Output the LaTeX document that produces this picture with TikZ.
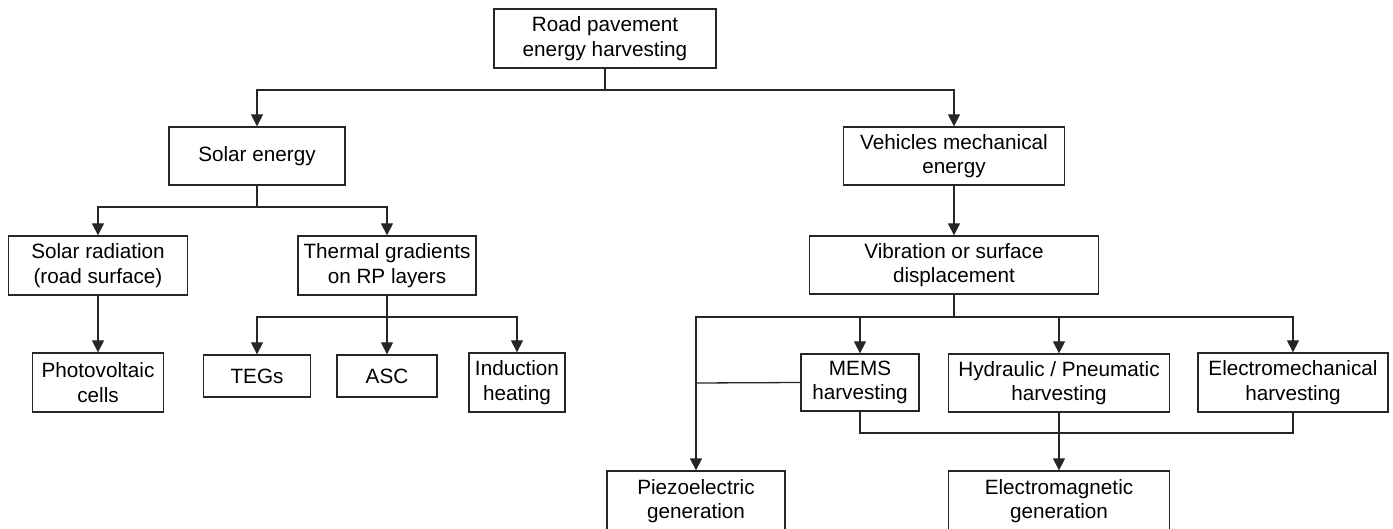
\documentclass[tikz,border=0pt]{standalone}
\usepackage{fontspec}
\setmainfont{Liberation Sans}
\usetikzlibrary{arrows.meta}
\begin{document}
\begin{tikzpicture}[x=1pt,y=-1pt,
  box/.style={draw=black!85, line width=1.3pt, inner sep=0pt, align=center,
    font=\fontsize{20.7}{24.5}\selectfont},
  link/.style={line width=1.3pt, draw=black!85},
  arr/.style={link, -{Triangle[length=12pt,width=12pt]}}]
\useasboundingbox (0,0) rectangle (1393,529);
\clip (0,0) rectangle (1393,529);
% nodes
\node[box, minimum width=222pt, minimum height=59pt] (root) at (605,38.5) {Road pavement\\energy harvesting};
\node[box, minimum width=176pt, minimum height=58pt] (solar) at (257,156) {Solar energy};
\node[box, minimum width=221pt, minimum height=58pt] (veh) at (954,156) {Vehicles mechanical\\energy};
\node[box, minimum width=179pt, minimum height=59pt] (srad) at (98,265.5) {Solar radiation\\(road surface)};
\node[box, minimum width=178pt, minimum height=59pt] (therm) at (387,265.5) {Thermal gradients\\on RP layers};
\node[box, minimum width=131pt, minimum height=59pt] (pv) at (98,382.5) {Photovoltaic\\cells};
\node[box, minimum width=107pt, minimum height=42pt] (tegs) at (257,376) {TEGs};
\node[box, minimum width=100pt, minimum height=42pt] (asc) at (387,376) {ASC};
\node[box, minimum width=96pt, minimum height=59pt] (ind) at (517,382.5) {Induction\\heating};
\node[box, minimum width=289pt, minimum height=58pt] (vib) at (954,265) {Vibration or surface\\displacement};
\node[box, minimum width=118pt, minimum height=57pt] (mems) at (860,382.5) {MEMS\\harvesting};
\node[box, minimum width=221pt, minimum height=58pt] (hyd) at (1059,383) {Hydraulic / Pneumatic\\harvesting};
\node[box, minimum width=190pt, minimum height=59pt] (elm) at (1293,382.5) {Electromechanical\\harvesting};
\node[box, minimum width=178pt, minimum height=60pt] (piezo) at (696,501) {Piezoelectric\\generation};
\node[box, minimum width=221pt, minimum height=60pt] (emg) at (1059,501) {Electromagnetic\\generation};
% junctions
\coordinate (j1) at (605,90);
\coordinate (j2) at (257,207);
\coordinate (j3) at (387,317);
\coordinate (j4) at (954,317);
\coordinate (j5) at (696,383);
\coordinate (j6) at (1059,433);
% connectors
\draw[link] (root.south) -- (j1);
\draw[arr] (j1) -| (solar.north);
\draw[arr] (j1) -| (veh.north);
\draw[link] (solar.south) -- (j2);
\draw[arr] (j2) -| (srad.north);
\draw[arr] (j2) -| (therm.north);
\draw[arr] (srad.south) -- (pv.north);
\draw[link] (therm.south) -- (j3);
\draw[arr] (j3) -| (tegs.north);
\draw[arr] (j3) -- (asc.north);
\draw[arr] (j3) -| (ind.north);
\draw[arr] (veh.south) -- (vib.north);
\draw[link] (vib.south) -- (j4);
\draw[arr] (j4) -| (piezo.north);
\draw[arr] (j4) -| (mems.north);
\draw[arr] (j4) -| (hyd.north);
\draw[arr] (j4) -| (elm.north);
\draw[link] (mems.west) -- (j5);
\draw[link] (mems.south) |- (j6);
\draw[link] (elm.south) |- (j6);
\draw[arr] (hyd.south) -- (emg.north);
\end{tikzpicture}
\end{document}
